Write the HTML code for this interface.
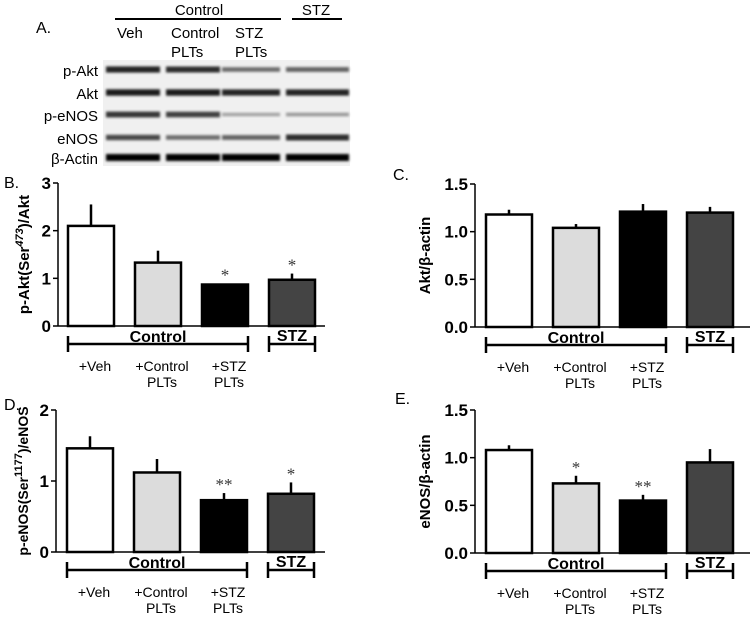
<!DOCTYPE html>
<html><head><meta charset="utf-8"><style>
body{margin:0;background:#fff}
svg{display:block;font-family:"Liberation Sans",sans-serif}
</style></head><body>
<svg id="s" width="750" height="620" viewBox="0 0 750 620">
<defs><filter id="bl" x="-5%" y="-50%" width="110%" height="200%"><feGaussianBlur stdDeviation="1.3"/></filter></defs>
<g id="blot">
<text x="36" y="33" font-size="16">A.</text>
<line x1="115" y1="19" x2="281" y2="19" stroke="#000" stroke-width="2"/>
<line x1="292" y1="19" x2="342" y2="19" stroke="#000" stroke-width="2"/>
<text x="199" y="15" font-size="15" text-anchor="middle">Control</text>
<text x="316" y="15" font-size="15" text-anchor="middle">STZ</text>
<text x="117" y="38" font-size="15">Veh</text>
<text x="171" y="38" font-size="15">Control</text>
<text x="171" y="57" font-size="15">PLTs</text>
<text x="235" y="38" font-size="15">STZ</text>
<text x="235" y="57" font-size="15">PLTs</text>
<rect x="103" y="60" width="247" height="106" fill="#f0f0f0"/>
</g>
</svg>
<script>
const svg=document.getElementById('s');
const NS='http://www.w3.org/2000/svg';
function mk(t,a,p){const e=document.createElementNS(NS,t);for(const k in a)e.setAttribute(k,a[k]);(p||svg).appendChild(e);return e;}
const blotRows=['p-Akt','Akt','p-eNOS','eNOS','β-Actin'];
const blotIntensity=[[0.8,0.75,0.4,0.45],[0.85,0.85,0.8,0.8],[0.7,0.65,0.1,0.15],[0.6,0.4,0.45,0.75],[1,1,1,1]];
const rowY=[70,93,115,138,158];
const laneX=[[106,160],[166,220],[222,280],[286,349]];
const blot=document.getElementById('blot');
blotRows.forEach((r,i)=>{
  const t=mk('text',{x:98,y:rowY[i]+6,'font-size':15,'text-anchor':'end'},blot);t.textContent=r;
  
  
  laneX.forEach((l,j)=>{
    const v=blotIntensity[i][j];
    const b=mk('rect',{x:l[0],y:rowY[i]-2-v*2,width:l[1]-l[0],height:3+v*4,fill:'#000',opacity:0.25+0.75*v,filter:'url(#bl)'},blot);
    
    
  });
});
const categories=['+Veh','+Control PLTs','+STZ PLTs','STZ'];
const valsB=[2.1,1.33,0.87,0.97], errB=[0.45,0.25,0.02,0.13], sigB=['','','*','*'];
const valsC=[1.18,1.04,1.21,1.2], errC=[0.05,0.04,0.08,0.06], sigC=['','','',''];
const valsD=[1.46,1.12,0.73,0.82], errD=[0.17,0.19,0.1,0.16], sigD=['','','**','*'];
const valsE=[1.08,0.73,0.55,0.95], errE=[0.05,0.08,0.06,0.14], sigE=['','*','**',''];
const ticksB=['0','1','2','3'], ticksC=['0.0','0.5','1.0','1.5'], ticksD=['0','1','2'], ticksE=['0.0','0.5','1.0','1.5'];
const fills=['#fff','#dcdcdc','#000','#444'];
function chart(o){
  const g=mk('g',{});
  
  
  const ys=v=>o.y0-(o.y0-o.yTop)*v/o.max;
  const pl=mk('text',{x:o.lx,y:o.ly,'font-size':16},g);pl.textContent=o.label;
  
  
  mk('line',{x1:o.ax,y1:o.yTop,x2:o.ax,y2:o.y0,stroke:'#000','stroke-width':1.5},g);
  mk('line',{x1:o.ax,y1:o.y0,x2:o.axEnd,y2:o.y0,stroke:'#000','stroke-width':1.5},g);
  o.ticks.forEach((t,i)=>{const v=parseFloat(t);const y=ys(v);
    mk('line',{x1:o.ax-5,y1:y,x2:o.ax,y2:y,stroke:'#000','stroke-width':1.5},g);
    const tx=mk('text',{x:o.ax-7,y:y+6,'font-size':17,'font-weight':'bold','text-anchor':'end'},g);tx.textContent=t;
    
    });
  const yt=mk('text',{x:0,y:0,'font-size':o.tfs||15,'font-weight':'bold','text-anchor':'middle',transform:`translate(${o.tx},${(o.yTop+o.y0)/2}) rotate(-90)`},g);
  yt.innerHTML=o.title;
  
  
  const step=o.bw+o.gap;
  o.vals.forEach((v,i)=>{
    const x=o.b0+i*step, y=ys(v), cx=x+o.bw/2;
    mk('line',{x1:cx,y1:y,x2:cx,y2:ys(v+o.err[i]),stroke:'#000','stroke-width':2.5},g);
    const r=mk('rect',{x:x,y:y,width:o.bw,height:o.y0-y,fill:fills[i],stroke:'#000','stroke-width':2.5},g);
    
    
    if(o.sig[i]){const s=mk('text',{x:cx,y:ys(v+o.err[i])-3,'font-size':17,'text-anchor':'middle',fill:'#333','font-family':'Liberation Serif'},g);s.textContent=o.sig[i];
      
      }
  });
  const by=o.y0+18, x3e=o.b0+2*step+o.bw, x4=o.b0+3*step;
  [[o.b0,x3e],[x4,x4+o.bw]].forEach(p=>{
    mk('line',{x1:p[0],y1:by,x2:p[1],y2:by,stroke:'#000','stroke-width':2.5},g);
    mk('line',{x1:p[0],y1:by-8,x2:p[0],y2:by+8,stroke:'#000','stroke-width':2.5},g);
    mk('line',{x1:p[1],y1:by-8,x2:p[1],y2:by+8,stroke:'#000','stroke-width':2.5},g);
  });
  const c=mk('text',{x:(o.b0+x3e)/2,y:o.y0+16,'font-size':16,'font-weight':'bold','text-anchor':'middle'},g);c.textContent='Control';
  
  
  const z=mk('text',{x:x4+o.bw/2,y:o.y0+15,'font-size':16,'font-weight':'bold','text-anchor':'middle'},g);z.textContent='STZ';
  
  
  categories.slice(0,3).forEach((cat,i)=>{
    const parts=cat.split(' ');const cx=o.b0+i*step+o.bw/2+4;
    parts.forEach((pt,k)=>{const t=mk('text',{x:cx,y:o.y0+45+k*16,'font-size':14,'text-anchor':'middle'},g);t.textContent=pt;
      
      });
  });
}
chart({name:'chart-b',label:'B.',lx:4,ly:188,ax:58,axEnd:325,yTop:183,y0:326,max:3,ticks:ticksB,vals:valsB,err:errB,sig:sigB,b0:68,bw:46,gap:21,tx:29,title:'p-Akt(Ser<tspan font-style="italic" baseline-shift="super" font-size="11">473</tspan>)/Akt'});
chart({name:'chart-c',label:'C.',lx:393,ly:180,ax:475,axEnd:750,yTop:184,y0:327,max:1.5,ticks:ticksC,vals:valsC,err:errC,sig:sigC,b0:486,bw:46,gap:21,tx:430,title:'Akt/β-actin'});
chart({name:'chart-d',label:'D.',lx:4,ly:410,ax:56,axEnd:325,yTop:410,y0:552,max:2,ticks:ticksD,vals:valsD,err:errD,sig:sigD,b0:67,bw:46,gap:21,tx:28,tfs:14,title:'p-eNOS(Ser<tspan baseline-shift="super" font-size="11">1177</tspan>)/eNOS'});
chart({name:'chart-e',label:'E.',lx:395,ly:404,ax:475,axEnd:750,yTop:410,y0:553,max:1.5,ticks:ticksE,vals:valsE,err:errE,sig:sigE,b0:486,bw:46,gap:21,tx:430,title:'eNOS/β-actin'});
</script>
</body></html>
